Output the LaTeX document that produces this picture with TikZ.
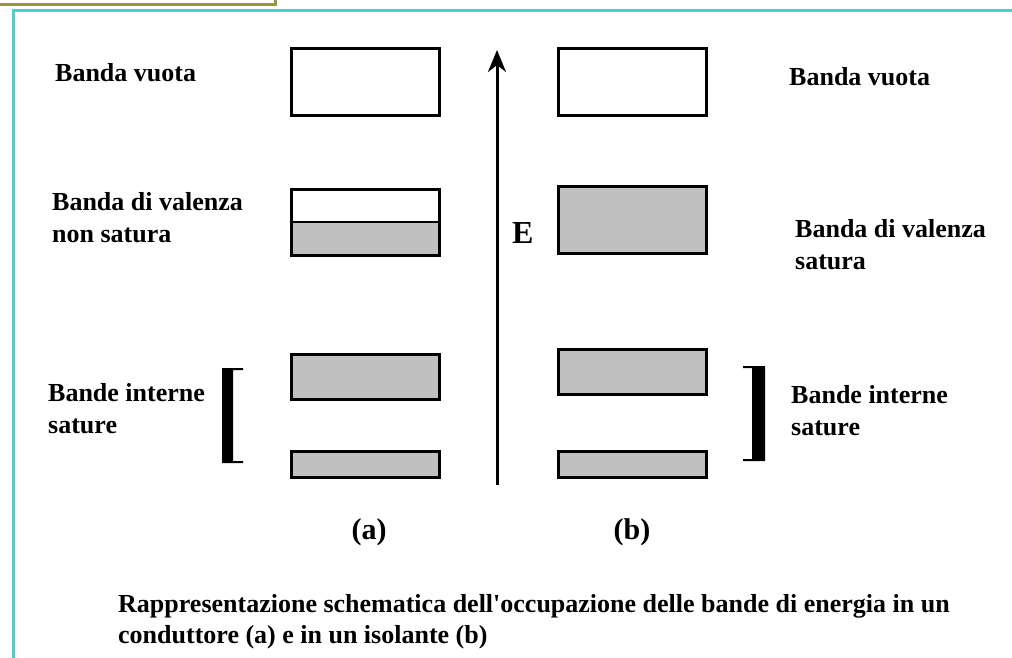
\documentclass[tikz,border=0pt]{standalone}
\usepackage{fontspec}
\setmainfont{Liberation Serif}
\usetikzlibrary{arrows.meta}
\definecolor{bordo}{RGB}{72,209,204}
\definecolor{oliva}{RGB}{153,153,51}
\definecolor{grigio}{RGB}{192,192,192}

\begin{document}
\begin{tikzpicture}[x=1pt,y=-1pt,
  band/.style={draw,line width=3pt,inner sep=0pt,outer sep=0pt,minimum width=148pt},
  fullband/.style={band,fill=grigio},
  halfband/.style={band,path picture={
      \fill[grigio] (path picture bounding box.south west) rectangle (path picture bounding box.east);
      \draw[line width=1.2pt] (path picture bounding box.west) -- (path picture bounding box.east);}},
  txt/.style={font=\fontsize{26}{32}\selectfont\bfseries,align=left,anchor=base west,inner sep=0pt},
  brack/.style={fill=black}]
  \useasboundingbox (0,0) rectangle (1012,658);
  % frame
  \draw[oliva,line width=3pt] (0,5) -- (275,5) -- (275,0);
  \draw[bordo,line width=3pt] (13,658) -- (13,11) -- (1012,11);

  % Define nodes: conductor (a)
  \node[band,minimum height=67pt] (av) at (365.5,82) {};
  \node[halfband,minimum height=66pt] (aval) at (365.5,222) {};
  \node[fullband,minimum height=45pt] (aint1) at (365.5,377) {};
  \node[fullband,minimum height=26pt] (aint2) at (365.5,464.5) {};
  % insulator (b)
  \node[band,minimum height=67pt] (bv) at (632.5,82) {};
  \node[fullband,minimum height=67pt] (bval) at (632.5,220) {};
  \node[fullband,minimum height=45pt] (bint1) at (632.5,372) {};
  \node[fullband,minimum height=26pt] (bint2) at (632.5,464.5) {};

  % energy axis
  \coordinate (Ebot) at (497,485);
  \coordinate (Etop) at (497,50);
  \draw[line width=3pt,-{Stealth[length=22pt,width=18pt,inset=7pt]}] (Ebot) -- (Etop);
  \node[txt,font=\fontsize{32}{32}\selectfont\bfseries] (E) at (512,243) {E};

  % brackets
  \fill[brack] (243,368) -- (222,368) -- (222,463) -- (243,463) -- (243,461) -- (233,461)
    -- (233,370) -- (243,370) -- cycle;
  \fill[brack] (743,366) -- (765,366) -- (765,461) -- (743,461) -- (743,459) -- (752,459)
    -- (752,368) -- (743,368) -- cycle;

  % labels (base = last line)
  \node[txt] (lav) at (55,82) {Banda vuota};
  \node[txt] (laval) at (52,242) {Banda di valenza\\non satura};
  \node[txt] (laint) at (48,433) {Bande interne\\sature};
  \node[txt] (lbv) at (789,86) {Banda vuota};
  \node[txt] (lbval) at (795,269) {Banda di valenza\\satura};
  \node[txt] (lbint) at (791,435) {Bande interne\\sature};
  \node[txt,font=\fontsize{30}{30}\selectfont\bfseries,anchor=base] (pa) at (369,539) {(a)};
  \node[txt,font=\fontsize{30}{30}\selectfont\bfseries,anchor=base] (pb) at (632,539) {(b)};

  \node[txt,font=\fontsize{26}{31}\selectfont\bfseries] (didasc) at (118,643)
    {Rappresentazione schematica dell\textquotesingle occupazione delle bande di energia in un\\conduttore (a) e in un isolante (b)};
\end{tikzpicture}
\end{document}
